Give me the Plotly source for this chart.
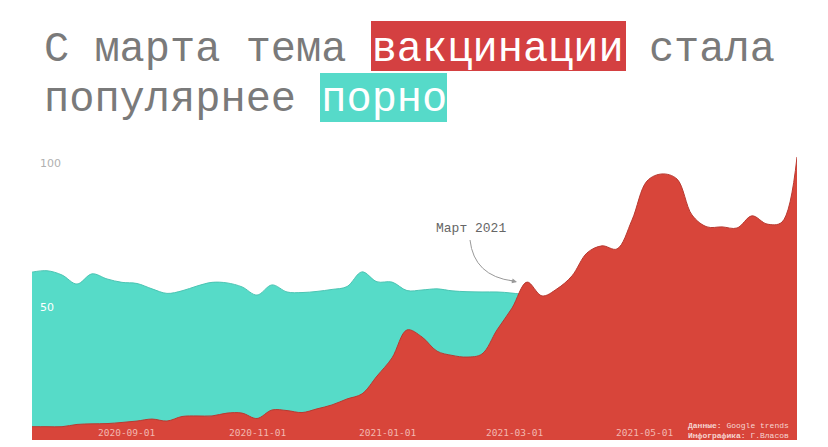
import plotly.graph_objects as go
import pandas as pd

# ---- data (weekly, Google Trends, 0-100) ----
dates = pd.date_range("2020-07-19", periods=52, freq="7D")
porn = [59.3, 59.8, 58.3, 55.1, 58.7, 56.9, 55.7, 55.3, 53.4, 51.8,
        52.7, 54.4, 55.7, 55.5, 54.1, 51.2, 54.8, 52.3, 52.1, 52.5,
        53.2, 54.2, 59.4, 55.9, 55.8, 52.8, 53.0, 53.4, 52.7, 52.4,
        52.3, 52.3, 51.9, 51.0, 48.0, 49.0, 48.0, 47.0, 48.0, 47.0,
        46.0, 47.0, 46.0, 45.0, 46.0, 47.0, 46.0, 45.0, 46.0, 45.0,
        46.0, 45.0]
vaccine = [4.7, 4.7, 4.7, 5.5, 5.7, 5.8, 6.2, 6.7, 7.4, 6.7,
           8.3, 8.5, 8.5, 9.5, 9.5, 7.6, 10.6, 10.4, 9.7, 11.0,
           12.4, 14.5, 16.3, 22.6, 29.0, 38.9, 36.4, 31.4, 29.9, 29.3,
           30.4, 38.9, 46.6, 55.8, 50.9, 53.4, 58.0, 66.1, 68.6, 67.5,
           77.7, 91.5, 94.0, 92.2, 79.5, 75.3, 75.3, 74.9, 79.2, 76.3,
           77.0, 100.0]
tick_dates = ["2020-09-01", "2020-11-01", "2021-01-01", "2021-03-01", "2021-05-01"]
y_labels = [100, 50]

RED = "#d8453a"
TEAL = "#56dbc8"
OFF = 8  # page body margin
W, H = 828 - OFF, 447 - OFF
L, T = 32 - OFF, 140 - OFF
R = W - (797 - OFF)
B = H - (440 - OFF)
PW, PH = W - L - R, H - T - B


def px(x):  # reference-image pixel -> paper
    return (x - OFF - L) / PW


def py(y):
    return (H - B - (y - OFF)) / PH


fig = go.Figure()
fig.add_trace(go.Scatter(x=dates, y=porn, mode="lines", fill="tozeroy",
                         line=dict(shape="spline", smoothing=1, color="#4cc4b3", width=1),
                         fillcolor=TEAL, hoverinfo="skip"))
fig.add_trace(go.Scatter(x=dates, y=vaccine, mode="lines", fill="tozeroy",
                         line=dict(shape="spline", smoothing=1, color="#b83a31", width=1),
                         fillcolor=RED, hoverinfo="skip"))

mono = "Liberation Mono, Courier New, monospace"
ann = []
# title lines
ann.append(dict(xref="paper", yref="paper", x=px(42), y=py(50), xanchor="left", yanchor="middle",
                text='С марта тема <span style="color:white">вакцинации</span> стала',
                showarrow=False, font=dict(family=mono, size=42, color="#7a7a7a")))
ann.append(dict(xref="paper", yref="paper", x=px(42), y=py(100), xanchor="left", yanchor="middle",
                text='популярнее <span style="color:white">порно</span>',
                showarrow=False, font=dict(family=mono, size=42, color="#7a7a7a")))
# y labels
label_shift = {100: 2, 50: -1}
for v in y_labels:
    ann.append(dict(xref="paper", yref="y", x=px(38), y=v, xanchor="left", yanchor="top",
                    yshift=label_shift[v], text=str(v), showarrow=False,
                    font=dict(family="DejaVu Sans", size=11,
                              color="#b0b0b0" if v == 100 else "white")))
# x tick labels
for d in tick_dates:
    ann.append(dict(xref="x", yref="paper", x=d, y=py(432), xanchor="center", yanchor="middle",
                    text=d, showarrow=False,
                    font=dict(family="DejaVu Sans Mono", size=9.5, color="#f2b8b0")))
# credits
ann.append(dict(xref="paper", yref="paper", x=px(791), y=py(425), xanchor="right", yanchor="middle",
                text="<b>Данные:</b> Google trends", showarrow=False,
                font=dict(family=mono, size=8, color="#f6d6d2")))
ann.append(dict(xref="paper", yref="paper", x=px(791), y=py(435), xanchor="right", yanchor="middle",
                text="<b>Инфографика:</b> Г.Власов", showarrow=False,
                font=dict(family=mono, size=8, color="#f6d6d2")))
# March annotation
ann.append(dict(xref="paper", yref="paper", x=px(471), y=py(228), xanchor="center", yanchor="middle",
                text="Март 2021", showarrow=False,
                font=dict(family=mono, size=13, color="#666666")))
# arrowhead at end of curve
ann.append(dict(xref="paper", yref="paper", x=px(517), y=py(282), ax=-9, ay=-2,
                text="", showarrow=True, arrowhead=2, arrowsize=1, arrowwidth=1,
                arrowcolor="#999999"))

shapes = [
    dict(type="rect", xref="paper", yref="paper", x0=px(371), x1=px(626), y0=py(71), y1=py(21),
         fillcolor="#d44041", line=dict(width=0), layer="below"),
    dict(type="rect", xref="paper", yref="paper", x0=px(320), x1=px(447), y0=py(122), y1=py(73),
         fillcolor="#56dac9", line=dict(width=0), layer="below"),
    dict(type="path", xref="paper", yref="paper",
         path=f"M {px(470)},{py(240)} Q {px(474)},{py(276)} {px(513)},{py(281)}",
         line=dict(color="#999999", width=1)),
]

fig.update_layout(
    width=W, height=H, margin=dict(l=L, r=R, t=T, b=B),
    paper_bgcolor="white", plot_bgcolor="white", showlegend=False,
    xaxis=dict(range=[dates[0], dates[-1]], showgrid=False, zeroline=False,
               showticklabels=False, showline=False),
    yaxis=dict(range=[0, 106], showgrid=False, zeroline=False,
               showticklabels=False, showline=False),
    annotations=ann, shapes=shapes,
)
fig.write_html("out.html")
